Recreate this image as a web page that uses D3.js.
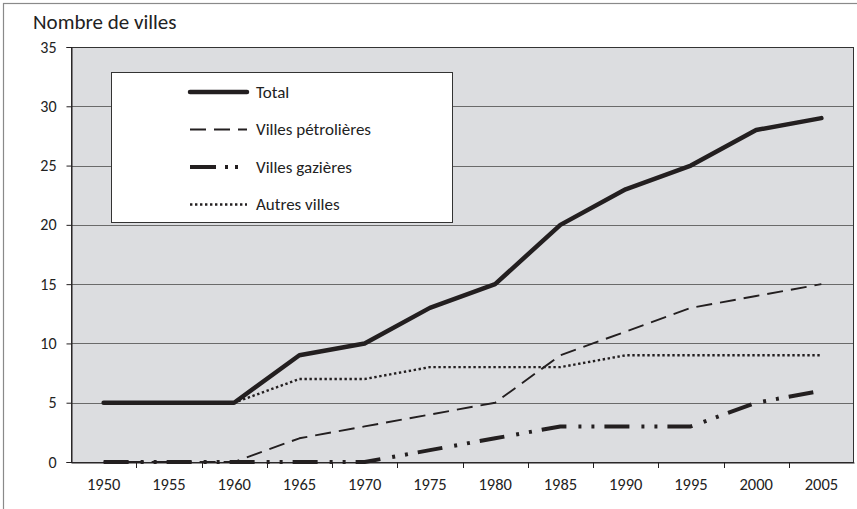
<!DOCTYPE html>
<html>
<head>
<meta charset="utf-8">
<script src="https://cdn.jsdelivr.net/npm/d3@7"></script>
<style>
  body { margin: 0; background: #fff; }
  svg { display: block; font-family: Carlito, Calibri, Lato, sans-serif; }
</style>
</head>
<body>
<script>
// data
var years = ["1950","1955","1960","1965","1970","1975","1980","1985","1990","1995","2000","2005"];
var total = [5,5,5,9,10,13,15,20,23,25,28,29];
var petrolieres = [0,0,0,2,3,4,5,9,11,13,14,15];
var gazieres = [0,0,0,0,0,1,2,3,3,3,5,6];
var autres = [5,5,5,7,7,8,8,8,9,9,9,9];
var yTicks = [0,5,10,15,20,25,30,35];

var series = [
  {name: "Total", values: total, width: 4.5, dash: null, cap: "round"},
  {name: "Villes pétrolières", values: petrolieres, width: 1.9, dash: "16,8", cap: "butt"},
  {name: "Villes gazières", values: gazieres, width: 4, dash: "25,12,3,10,3,10", cap: "butt"},
  {name: "Autres villes", values: autres, width: 2.4, dash: "2.4,2.6", cap: "butt"}
];

var W = 857, H = 509;
var plotL = 71, plotR = 854, plotT = 47, plotB = 462;
var ink = "#231f20";

var svg = d3.select("body").append("svg").attr("width", W).attr("height", H);

// outer frame
svg.append("rect").attr("x", 3.5).attr("y", 3.5).attr("width", 900).attr("height", 600)
  .attr("fill", "none").attr("stroke", "#8a8a8a").attr("stroke-width", 1.2);

var x = d3.scaleBand().domain(years).range([plotL, plotR]).padding(0);
var y = d3.scaleLinear().domain([0, 35]).range([plotB, plotT]);

// plot background
svg.append("rect").attr("x", plotL).attr("y", plotT).attr("width", plotR - plotL).attr("height", plotB - plotT)
  .attr("fill", "#dcdde0");

// gridlines
svg.append("g").selectAll("line").data(yTicks.filter(function(d){ return d > 0 && d < 35; }))
  .enter().append("line")
  .attr("x1", plotL).attr("x2", plotR)
  .attr("y1", function(d){ return Math.round(y(d)) + 0.5; })
  .attr("y2", function(d){ return Math.round(y(d)) + 0.5; })
  .attr("stroke", "#6a6a6a").attr("stroke-width", 1);

// plot border
svg.append("rect").attr("x", plotL + 0.5).attr("y", plotT + 0.5).attr("width", plotR - plotL - 1).attr("height", plotB - plotT)
  .attr("fill", "none").attr("stroke", "#333").attr("stroke-width", 1);

// y axis
var yAxis = svg.append("g").attr("transform", "translate(" + (plotL + 0.5) + ",0)")
  .call(d3.axisLeft(y).tickValues(yTicks).tickSize(5).tickPadding(10));
yAxis.attr("font-family", null);
yAxis.select(".domain").attr("stroke", ink);
yAxis.selectAll(".tick line").attr("stroke", ink);
yAxis.selectAll("text").attr("font-size", 16).attr("fill", "#222");

// x axis: labels at band centres, ticks at band boundaries
var xAxis = svg.append("g").attr("transform", "translate(0," + (plotB + 0.5) + ")")
  .call(d3.axisBottom(x).tickSize(0).tickPadding(16));
xAxis.attr("font-family", null);
xAxis.select(".domain").attr("stroke", ink);
xAxis.selectAll("text").attr("font-size", 16.5).attr("fill", "#222");
svg.append("g").selectAll("line").data(years.slice(1))
  .enter().append("line")
  .attr("x1", function(d){ return Math.round(x(d)) + 0.5; })
  .attr("x2", function(d){ return Math.round(x(d)) + 0.5; })
  .attr("y1", plotB).attr("y2", plotB + 6)
  .attr("stroke", ink);

// lines
var line = d3.line()
  .x(function(d, i){ return x(years[i]) + x.bandwidth() / 2; })
  .y(function(d){ return y(d); });

svg.append("g").selectAll("path").data(series).enter().append("path")
  .attr("d", function(s){ return line(s.values); })
  .attr("fill", "none")
  .attr("stroke", ink)
  .attr("stroke-width", function(s){ return s.width; })
  .attr("stroke-dasharray", function(s){ return s.dash; })
  .attr("stroke-linecap", function(s){ return s.cap; })
  .attr("stroke-linejoin", "round");

// legend
var lg = svg.append("g");
lg.append("rect").attr("x", 111.5).attr("y", 72.5).attr("width", 341).attr("height", 150)
  .attr("fill", "#fff").attr("stroke", "#333").attr("stroke-width", 1);
var rows = lg.selectAll("g.row").data(series).enter().append("g")
  .attr("transform", function(s, i){ return "translate(0," + (92 + i * 37.5) + ")"; });
rows.append("line").attr("x1", 190).attr("x2", 247).attr("y1", 0).attr("y2", 0)
  .attr("stroke", ink)
  .attr("stroke-width", function(s){ return s.width; })
  .attr("stroke-dasharray", function(s, i){ return i == 2 ? "26,9,3,7,3,10" : s.dash; })
  .attr("stroke-linecap", function(s){ return s.cap; });
rows.append("text").attr("x", 256).attr("y", 0).attr("dy", "0.35em")
  .attr("font-size", 17).attr("fill", "#222")
  .text(function(s){ return s.name; });

// axis title
svg.append("text").attr("x", 33).attr("y", 29).attr("font-size", 21).attr("fill", "#222")
  .text("Nombre de villes");
</script>
</body>
</html>
